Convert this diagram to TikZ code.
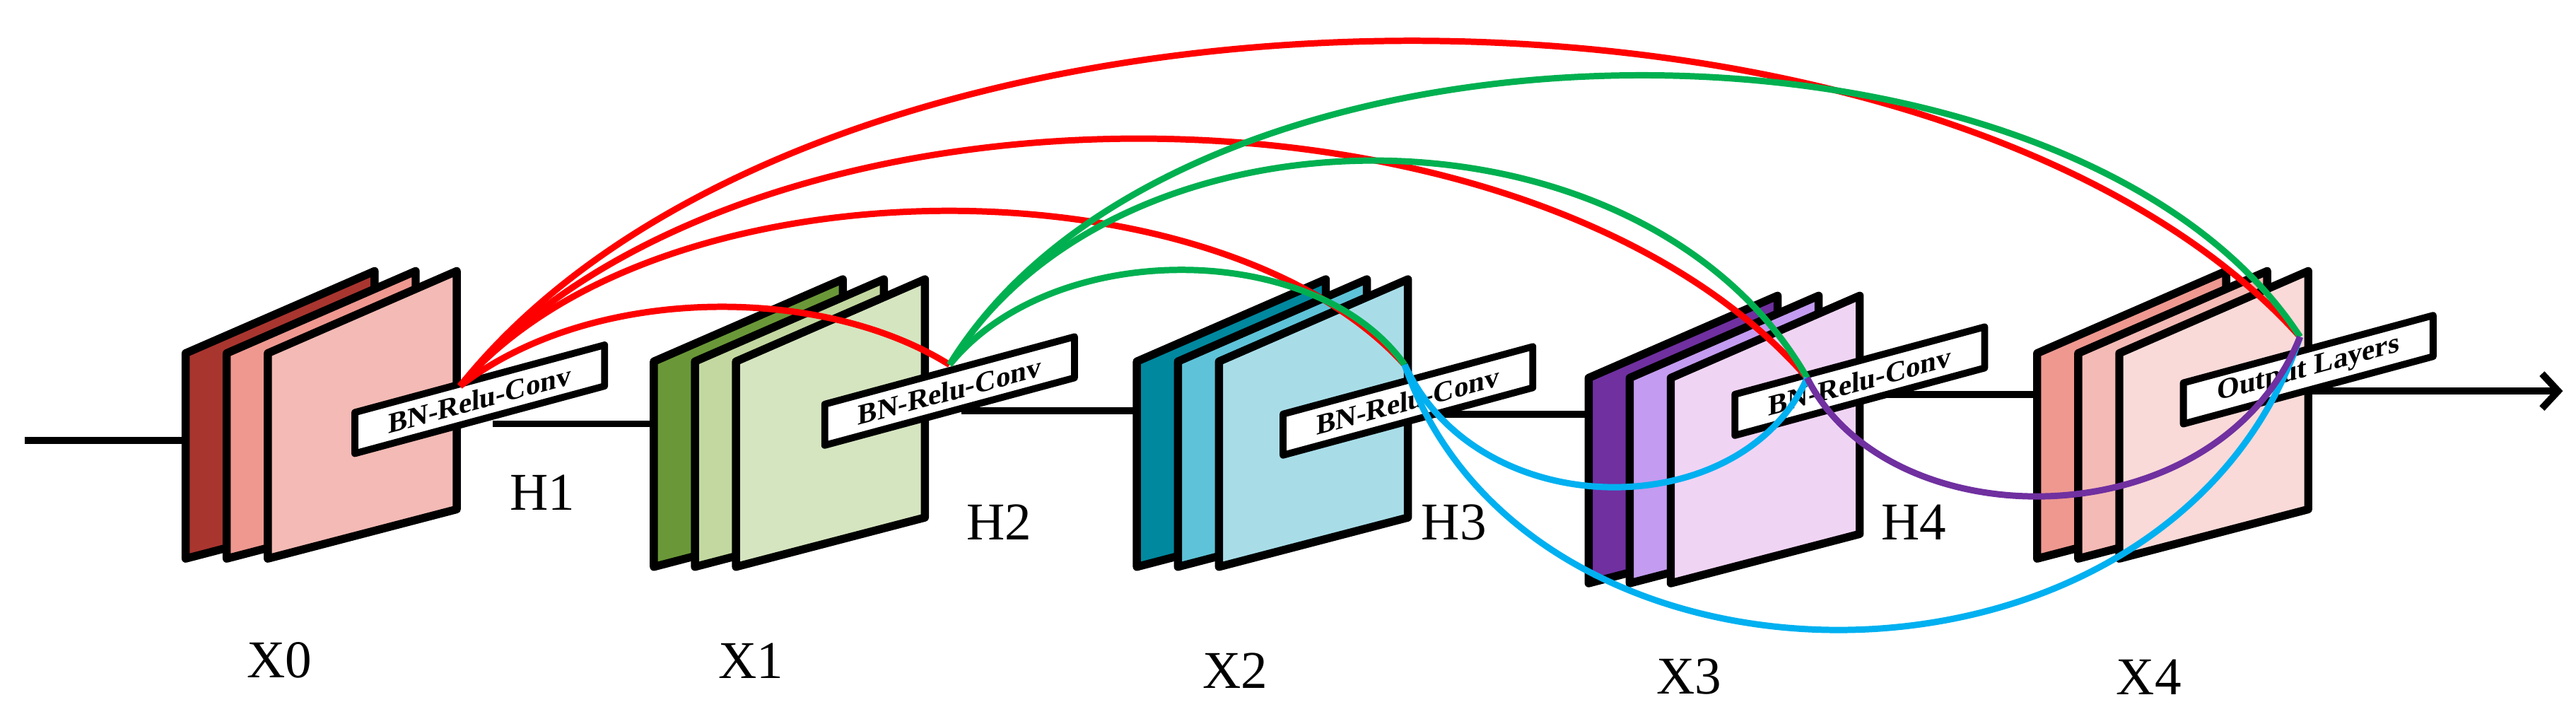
\documentclass[tikz,border=0pt]{standalone}
\usepackage{fontspec}
\setmainfont{Liberation Serif}
\usetikzlibrary{arrows.meta}
\begin{document}
\begin{tikzpicture}[x=0.05cm,y=-0.05cm,line join=round,
  plate/.style={draw=black,line width=7pt},
  lab/.style={draw=black,fill=white,line width=6pt,inner sep=2pt,minimum width=152*0.05cm,minimum height=25*0.05cm,font=\bfseries\fontsize{25}{25}\selectfont},
  arc/.style={line width=5.5pt},
  conn/.style={line width=6pt},
  big/.style={font=\fontsize{46}{46}\selectfont}]
\definecolor{r1}{HTML}{A9352F}\definecolor{r2}{HTML}{EE9890}\definecolor{r3}{HTML}{F4BAB5}
\definecolor{g1}{HTML}{6A9838}\definecolor{g2}{HTML}{C2D8A0}\definecolor{g3}{HTML}{D5E5C0}
\definecolor{b1}{HTML}{00889E}\definecolor{b2}{HTML}{5EC3D8}\definecolor{b3}{HTML}{A8DDE8}
\definecolor{p1}{HTML}{7030A0}\definecolor{p2}{HTML}{C39BF0}\definecolor{p3}{HTML}{F0D4F4}
\definecolor{o3}{HTML}{F9DAD8}
\definecolor{cred}{HTML}{FF0000}\definecolor{cgreen}{HTML}{00B050}
\definecolor{ccyan}{HTML}{00B0F0}\definecolor{cpurp}{HTML}{7030A0}
\useasboundingbox (0,0) rectangle (1568,437.6);
\newcommand\platestack[6]{%
 \foreach \i/\c in {0/#4,1/#5,2/#6}{
  \draw[plate,fill=\c] (#2+25*\i,#3) -- (#2+25*\i+115,#3-50) -- (#2+25*\i+115,#3+95) -- (#2+25*\i,#3+125) -- cycle;}
 \coordinate (#1in) at (#2,#3+55);}
\newcommand\blabel[4]{%
 \begin{scope}[shift={(#2,#3)},yslant=0.27]
 \node[lab,transform shape] (#1) at (0,0) {#4};
 \end{scope}}
% stacks
\platestack{s0}{113}{215}{r1}{r2}{r3}
\platestack{s1}{398}{220}{g1}{g2}{g3}
\platestack{s2}{692}{220}{b1}{b2}{b3}
\platestack{s3}{967}{230}{p1}{p2}{p3}
\platestack{s4}{1240}{215}{r2}{r3}{o3}
\coordinate (start) at (15,268);
\draw[conn] (start) -- (start -| s0in);
% connectors (under the labels)
\coordinate (c0) at (300,258);
\coordinate (c1) at (585,250);
\coordinate (c2) at (865,252);
\coordinate (c3) at (1140,240);
\coordinate (c4) at (1400,238);
\coordinate (end) at (1560,238);
\draw[conn] (c0) -- (c0 -| s1in);
\draw[conn] (c1) -- (c1 -| s2in);
\draw[conn] (c2) -- (c2 -| s3in);
\draw[conn] (c3) -- (c3 -| s4in);
\draw[conn,-{Straight Barb[length=14pt,width=30pt,line width=6pt]}] (c4) -- (end);
% labels
\blabel{L0}{292}{243}{BN-Relu-Conv}
\blabel{L1}{578}{238}{BN-Relu-Conv}
\blabel{L2}{857}{244}{BN-Relu-Conv}
\blabel{L3}{1132}{232}{BN-Relu-Conv}
\blabel{L4}{1405}{225}{Output Layers}
% points
\coordinate (P0) at (280,235);
\coordinate (P1) at (578,222);
\coordinate (P2) at (855,222);
\coordinate (P3) at (1100,230);
\coordinate (P4) at (1400,205);
% arcs
\draw[arc,cred] (P0) .. controls (360,173) and (500,173) .. (P1);
\draw[arc,cred] (P0) .. controls (400,95) and (740,95) .. (P2);
\draw[arc,cred] (P0) .. controls (450,35) and (930,35) .. (P3);
\draw[arc,cred] (P0) .. controls (500,-40) and (1180,-40) .. (P4);
\draw[arc,cgreen] (P1) .. controls (640,145) and (800,145) .. (P2);
\draw[arc,cgreen] (P1) .. controls (680,55) and (1000,55) .. (P3);
\draw[arc,cgreen] (P1) .. controls (720,-10) and (1260,-10) .. (P4);
\draw[arc,ccyan] (P2) .. controls (900,320) and (1060,320) .. (P3);
\draw[arc,ccyan] (P2) .. controls (930,440) and (1320,440) .. (P4);
\draw[arc,cpurp] (P3) .. controls (1150,330) and (1350,330) .. (P4);
% texts
\node[big] (H1) at (330,300) {H1};
\node[big] (H2) at (608,318) {H2};
\node[big] (H3) at (885,318) {H3};
\node[big] (H4) at (1165,318) {H4};
\node[big] (X0) at (170,402) {X0};
\node[big] (X1) at (457,402) {X1};
\node[big] (X2) at (752,408) {X2};
\node[big] (X3) at (1028,412) {X3};
\node[big] (X4) at (1308,412) {X4};
\end{tikzpicture}
\end{document}
